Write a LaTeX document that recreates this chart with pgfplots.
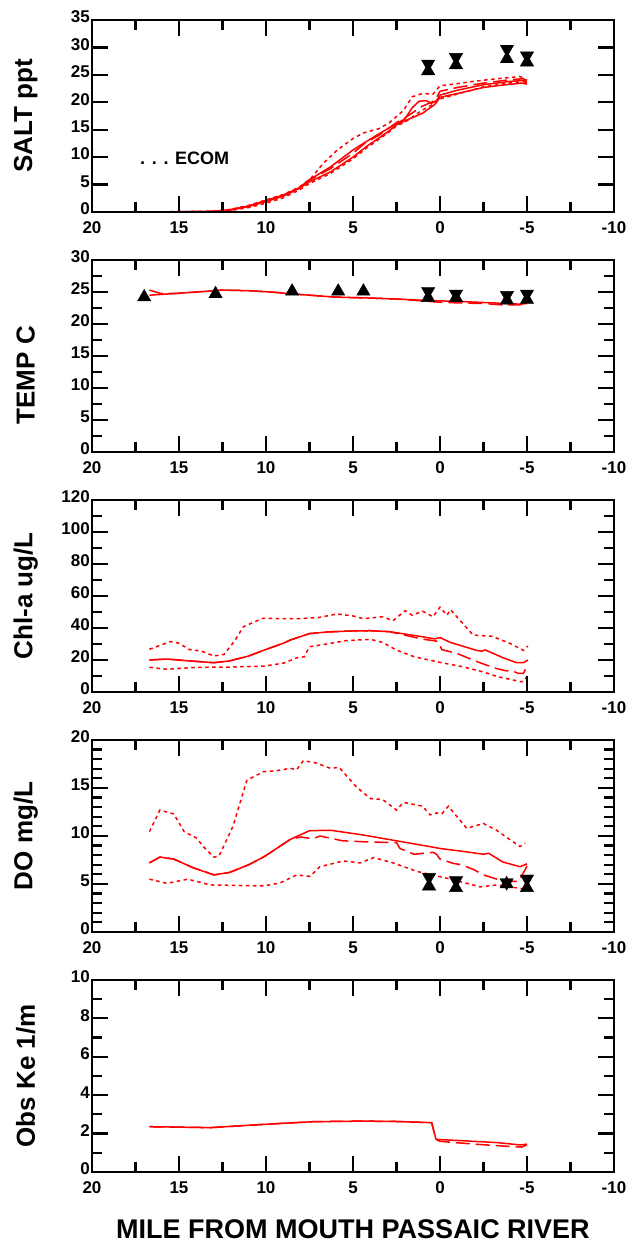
\documentclass[border=0pt]{standalone}
\usepackage{fontspec}
\setmainfont{Liberation Sans}
\usepackage{pgfplots}
\pgfplotsset{compat=1.18}

\pgfplotsset{
  panel/.style={
    scale only axis, width=522pt, height=192pt,
    anchor=south west, clip=false,
    x dir=reverse, xmin=-10, xmax=20,
    xtick={-10,-5,0,5,10,15,20},
    xticklabels={-10,-5,0,5,10,15,20},
    minor xtick={-7.5,-2.5,2.5,7.5,12.5,17.5},
    tick align=inside,
    major tick length=16pt, minor tick length=10pt,
    every tick/.style={black, line width=2.2pt},
    axis line style={line width=2.3pt},
    tick label style={font=\fontsize{17}{17}\selectfont\bfseries},
    xticklabel style={yshift=-6pt},
    yticklabel style={inner sep=2pt, yshift=3pt},
    ylabel style={font=\fontsize{26}{26}\selectfont\bfseries, at={(axis description cs:-0.127,0.5)}, anchor=center},
    /pgf/number format/assume math mode=true,
  },
  sol/.style={red, line width=1.5pt, mark=none},
  dsh/.style={red, line width=1.5pt, mark=none, dash pattern=on 14pt off 6pt},
  dot/.style={red, line width=1.5pt, mark=none, dash pattern=on 3.5pt off 3.5pt},
  upm/.style={only marks, mark=triangle*, mark size=7.7pt, mark options={fill=black, draw=black}},
  dnm/.style={only marks, mark=triangle*, mark size=7.7pt, mark options={rotate=180, fill=black, draw=black}},
}

% frame and inward ticks on all four sides: #1 = ymax, #2 = major y ticks, #3 = minor y ticks
\newcommand{\frameticks}[3]{%
 \pgfplotsextra{%
  \foreach \t in {-5,0,5,10,15} {%
    \draw[black, line width=2.2pt] (axis cs:\t,0) -- ++(0pt,16pt);
    \draw[black, line width=2.2pt] (axis cs:\t,#1) -- ++(0pt,-16pt);}
  \foreach \t in {-7.5,-2.5,2.5,7.5,12.5,17.5} {%
    \draw[black, line width=2.2pt] (axis cs:\t,0) -- ++(0pt,10pt);
    \draw[black, line width=2.2pt] (axis cs:\t,#1) -- ++(0pt,-10pt);}
  \foreach \v in {#2} {%
    \draw[black, line width=2.2pt] (axis cs:20,\v) -- ++(16pt,0pt);
    \draw[black, line width=2.2pt] (axis cs:-10,\v) -- ++(-16pt,0pt);}
  \foreach \v in {#3} {%
    \draw[black, line width=2.2pt] (axis cs:20,\v) -- ++(10pt,0pt);
    \draw[black, line width=2.2pt] (axis cs:-10,\v) -- ++(-10pt,0pt);}
  \draw[black, line width=2.3pt] (axis cs:20,0) rectangle (axis cs:-10,#1);
 }%
}

\begin{document}
\begin{tikzpicture}
\path (0,0) rectangle (626pt,1245pt);

% ---------------- SALT ----------------
\begin{axis}[panel, at={(92pt,1033pt)}, ymin=0, ymax=35, ytick={0,5,...,35}, ylabel={SALT ppt}]
\addplot[upm] coordinates {(0.68,25.7) (-0.92,26.8) (-3.85,27.9) (-5.0,27.3)};
\addplot[dnm] coordinates {(0.68,27.0) (-0.92,28.2) (-3.85,29.7) (-5.0,28.5)};
\addplot[sol] coordinates {(16.7,0) (15,0.02) (13,0.1) (12.5,0.2) (12,0.4) (11,1.0) (10,1.9) (9,2.9) (8.1,4.3) (7.5,5.5) (6.3,7.3) (5,10.0) (4.2,12.0) (3,14.6) (2.5,15.9) (2.1,16.5) (1,18.0) (0.3,19.6) (0,20.9) (-1,21.6) (-2.5,22.7) (-3.5,23.1) (-4.7,23.5) (-5,23.3)};
\addplot[sol] coordinates {(16.7,0) (13,0.1) (12,0.45) (11,1.1) (10,2.1) (9,3.1) (8.1,4.4) (7.5,5.9) (6.3,8.2) (5,11.3) (4,13.3) (3,15.2) (2.5,16.1) (2,17.0) (1.6,19.0) (1.2,20.2) (0.8,20.3) (0.5,19.8) (0.2,20.3) (0,21.3) (-1,22.2) (-2.5,23.2) (-4,23.8) (-4.8,24.0) (-5,23.6)};
\addplot[dsh] coordinates {(16.7,0) (13,0.1) (12,0.4) (11,1.1) (10,2.0) (9,3.0) (8.1,4.3) (7.5,5.8) (6.3,7.9) (5,10.7) (4.3,12.6) (3.5,14.0) (2.5,16.3) (2,17.2) (1,19.3) (0.3,20.3) (0,22.0) (-1,22.7) (-2.5,23.5) (-4,24.1) (-4.8,24.3) (-5,23.6)};
\addplot[dot] coordinates {(16.7,0) (13,0.15) (12,0.5) (11,1.2) (10,2.2) (9,3.2) (8.1,4.5) (7.4,6.2) (6.7,8.9) (5.9,11.3) (5,13.4) (4.4,14.4) (3.5,15.2) (2.9,16.3) (2.1,18.5) (1.6,21.0) (1,21.6) (0.4,21.5) (0,23.0) (-1,23.4) (-1.9,23.8) (-3,24.2) (-4.6,24.7) (-5,24.0)};
\addplot[dot] coordinates {(16.7,0) (13,0.05) (12,0.3) (11,0.8) (10,1.6) (9,2.6) (8.1,4.0) (7.5,5.2) (6.3,7.0) (5,9.7) (4.2,11.7) (3,14.4) (2.5,15.7) (2,16.4) (1,18.6) (0.3,19.8) (0,20.6) (-1,21.5) (-2.5,22.8) (-4,23.5) (-4.8,23.8) (-5,23.4)};
\node[anchor=west, font=\fontsize{18}{18}\selectfont\bfseries, inner sep=0pt] at (axis cs:17.24,9.84) {. . . ECOM};
\frameticks{35}{5,10,15,20,25,30}{5,10,15,20,25,30}
\end{axis}

% ---------------- TEMP ----------------
\begin{axis}[panel, at={(92pt,793pt)}, ymin=0, ymax=30, ytick={0,5,...,30}, minor ytick={2.5,7.5,...,27.5}, ylabel={TEMP C}, ylabel style={at={(axis description cs:-0.127,0.40)}}]
\addplot[upm] coordinates {(17.0,24.2) (12.9,24.7) (8.5,25.1) (5.85,25.1) (4.4,25.1) (0.68,24.1) (-0.92,24.1) (-3.85,23.7) (-5.0,23.8)};
\addplot[dnm] coordinates {(0.68,25.1) (-0.92,24.7) (-3.85,24.5) (-5.0,24.7)};
\addplot[sol] coordinates {(16.7,24.5) (15,24.8) (13.5,25.1) (12.5,25.3) (11,25.2) (9.5,24.95) (8.5,24.7) (7,24.4) (6,24.2) (4,24.05) (2.5,23.9) (1,23.7) (-1.3,23.5) (-3,23.3) (-4.6,23.1) (-5,23.2)};
\addplot[dsh] coordinates {(16.7,25.3) (16.1,24.8) (15,24.8) (13.5,25.1) (12.5,25.3) (11,25.2) (9.5,24.95) (8.5,24.7) (7,24.4) (6,24.2) (4,24.05) (2.5,23.9) (1,23.6) (0,23.4) (-1,23.3) (-2.5,23.2) (-3.5,23.0) (-4.6,23.0) (-5,23.2)};
\frameticks{30}{5,10,15,20,25}{2.5,7.5,12.5,17.5,22.5,27.5}
\end{axis}

% ---------------- Chl-a ----------------
\begin{axis}[panel, at={(92pt,553pt)}, ymin=0, ymax=120, ytick={0,20,...,120}, minor ytick={10,30,...,110}, ylabel={Chl-a ug/L}]
\addplot[sol] coordinates {(16.7,20.0) (15.7,20.6) (14.5,19.5) (13,18.3) (12.1,19.4) (11,22.5) (10.1,26.2) (9,30.5) (8.6,32.5) (7.5,36.5) (6.5,37.5) (5.2,38.1) (4,38.3) (2.9,37.7) (2,36.2) (1,34.5) (0.3,33.2) (0,34.0) (-0.6,31.0) (-1.5,28.0) (-2.1,26.0) (-2.4,25.5) (-2.6,26.3) (-3.6,21.5) (-4.4,18.3) (-4.8,18.3) (-5.05,20.0)};
\addplot[dsh] coordinates {(16.7,20.0) (15.7,20.6) (14.5,19.5) (13,18.3) (12.1,19.4) (11,22.5) (10.1,26.2) (9,30.5) (8.6,32.5) (7.5,36.5) (6.5,37.5) (5.2,38.1) (4,38.3) (2.9,37.7) (2.0,35.5) (1.0,33.0) (0.3,32.0) (0.1,31.5) (-0.1,26.5) (-1.0,24.0) (-2.0,19.5) (-2.5,17.5) (-3.2,14.8) (-3.8,13.2) (-4.1,13.5) (-4.5,11.6) (-4.8,11.7) (-5.05,17.5)};
\addplot[dot] coordinates {(16.7,26.7) (16,29.5) (15.5,31.5) (15,30.5) (14.4,26.5) (13.7,25.5) (13,22.5) (12.4,23.5) (11.8,32) (11.3,40.8) (10.2,46.0) (8.2,45.8) (7,46.5) (5.9,48.8) (5,47.5) (4.4,45.8) (3.3,47.0) (2.7,44.6) (2.0,50.8) (1.6,48.0) (1.0,50.5) (0.4,47.0) (0.0,53.0) (-0.4,48.0) (-0.6,51.5) (-1.9,35.6) (-3.0,34.8) (-4.0,30.5) (-4.5,27.7) (-4.8,26.0) (-5.05,28.7)};
\addplot[dot] coordinates {(16.7,15.4) (15.7,14.2) (14.0,15.4) (12,15.6) (10.1,16.2) (9,18) (8.2,21.5) (7.8,22) (7.5,28.3) (6.5,30) (5.4,32.1) (4.0,32.9) (3.3,31) (2.5,26.2) (1.5,22.1) (0,18.5) (-1.3,15.8) (-2.5,12.5) (-3.3,9.6) (-4.0,8) (-4.6,6.5) (-4.8,6.5) (-5.05,10.5)};
\frameticks{120}{20,40,60,80,100}{10,30,50,70,90,110}
\end{axis}

% ---------------- DO ----------------
\begin{axis}[panel, at={(92pt,313pt)}, ymin=0, ymax=20, ytick={0,5,...,20}, minor ytick={1,2,3,4,6,7,8,9,11,12,13,14,16,17,18,19}, ylabel={DO mg/L}]
\addplot[upm] coordinates {(0.63,4.77) (-0.92,4.6) (-3.83,5.0) (-5.0,4.6)};
\addplot[dnm] coordinates {(0.63,5.71) (-0.92,5.36) (-3.83,5.15) (-5.0,5.54)};
\addplot[sol] coordinates {(16.7,7.2) (16.1,7.8) (15.3,7.6) (14.2,6.7) (13.0,5.95) (12.1,6.2) (11,7.0) (10.1,7.85) (8.6,9.65) (7.5,10.55) (6.3,10.6) (4.4,10.1) (2.5,9.5) (0.6,8.9) (0,8.7) (-1.3,8.4) (-2.5,8.1) (-2.8,8.2) (-3.6,7.3) (-4.6,6.8) (-5,7.1)};
\addplot[dsh] coordinates {(16.7,7.2) (16.1,7.8) (15.3,7.6) (14.2,6.7) (13.0,5.95) (12.1,6.2) (11,7.0) (10.1,7.85) (8.6,9.65) (8.0,9.9) (7.3,9.7) (6.9,10.0) (5.6,9.5) (4.4,9.4) (2.5,9.3) (2.3,8.7) (1.5,8.1) (0.95,8.2) (0.4,8.3) (0.2,8.1) (0,7.6) (-0.75,7.15) (-1.25,7.0) (-2.0,6.45) (-2.4,6.0) (-3.45,5.4) (-3.83,5.25) (-4.0,5.3) (-4.5,5.25) (-4.9,6.5) (-5.0,6.9)};
\addplot[dot] coordinates {(16.7,10.45) (16.1,12.7) (15.3,12.3) (14.7,10.45) (14.0,9.8) (13.6,8.9) (13.0,7.8) (12.7,7.9) (11.9,11.0) (11.1,15.8) (10.15,16.7) (9.4,16.8) (8.6,17.05) (8.24,16.9) (7.85,17.85) (7.1,17.6) (6.3,17.05) (5.8,17.15) (4.8,15.1) (4.0,13.9) (3.3,13.8) (2.5,12.7) (2.1,13.5) (1.0,13.1) (0.57,12.2) (0.2,12.4) (-0.1,12.3) (-0.48,13.1) (-1.53,10.8) (-2.5,11.3) (-3.25,10.6) (-3.83,9.86) (-4.6,8.9) (-4.9,9.24)};
\addplot[dot] coordinates {(16.7,5.5) (15.7,5.07) (14.5,5.5) (13.2,4.9) (10.15,4.8) (9.2,5.1) (8.24,5.94) (7.47,5.8) (6.9,6.8) (5.56,7.4) (4.6,7.2) (3.8,7.75) (2.7,7.2) (1.3,6.3) (-0.4,5.6) (-1.9,4.9) (-2.3,4.7) (-3.25,4.9) (-4.6,4.55) (-5,4.4)};
\frameticks{20}{5,10,15}{1,2,3,4,6,7,8,9,11,12,13,14,16,17,18,19}
\end{axis}

% ---------------- Ke ----------------
\begin{axis}[panel, at={(92pt,73pt)}, ymin=0, ymax=10, ytick={0,2,...,10}, minor ytick={1,3,...,9}, ylabel={Obs Ke 1/m},
  xlabel={MILE FROM MOUTH PASSAIC RIVER},
  xlabel style={font=\fontsize{27}{27}\selectfont\bfseries, at={(axis description cs:0.5,-0.297)}, anchor=center}]
\addplot[sol] coordinates {(16.7,2.36) (13.2,2.31) (10.15,2.48) (7.3,2.62) (4.4,2.65) (2.5,2.63) (0.48,2.57) (0.23,1.70) (-2.3,1.58) (-3.3,1.53) (-4.6,1.41) (-5,1.45)};
\addplot[dsh] coordinates {(16.7,2.36) (13.2,2.31) (10.15,2.48) (7.3,2.62) (4.4,2.65) (2.5,2.63) (0.48,2.57) (0.23,1.70) (0,1.6) (-1,1.52) (-2.5,1.42) (-4,1.33) (-4.7,1.3) (-5,1.42)};
\frameticks{10}{2,4,6,8}{1,3,5,7,9}
\end{axis}
\end{tikzpicture}
\end{document}
